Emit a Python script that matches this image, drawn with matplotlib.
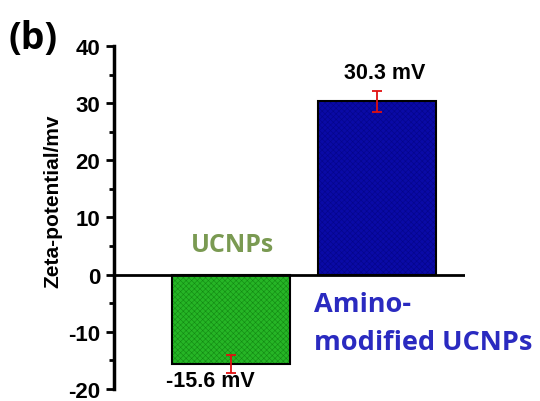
import matplotlib
matplotlib.use("Agg")
import matplotlib.pyplot as plt

samples = ["UCNPs", "Amino-modified UCNPs"]
zeta = [-15.6, 30.3]
zeta_err = [1.6, 1.9]
value_labels = ["-15.6 mV", "30.3 mV"]
yticks = [-20, -10, 0, 10, 20, 30, 40]

plt.rcParams["font.family"] = ["Liberation Sans", "DejaVu Sans"]
plt.rcParams["axes.unicode_minus"] = False

fig = plt.figure(figsize=(5.4, 4.02), dpi=100)
ax = fig.add_axes([0.211, 0.030, 0.65, 0.853])

pos = [1, 2]
fills = ["#26b526", "#0a0aa6"]
hatch_cols = ["#138a13", "#05058a"]
plt.rcParams["hatch.linewidth"] = 0.4
for p, v, fc, hc in zip(pos, zeta, fills, hatch_cols):
    ax.bar(p, v, width=0.81, color=fc, edgecolor=hc, hatch="xxxxxx", linewidth=0, zorder=2)
    ax.bar(p, v, width=0.81, fill=False, edgecolor="black", linewidth=1.5, zorder=3)

ax.errorbar(pos, zeta, yerr=zeta_err, fmt="none", ecolor="#e01010",
            elinewidth=1.3, capsize=3.5, capthick=1.3, zorder=4)

ax.axhline(0, color="black", linewidth=2, zorder=5)

ax.set_xlim(0.2, 2.6)
ax.set_ylim(-20, 40)
ax.set_yticks(yticks)
ax.set_yticks(range(-15, 40, 10), minor=True)
ax.set_xticks([])
for s in ["top", "right", "bottom"]:
    ax.spines[s].set_visible(False)
ax.spines["left"].set_linewidth(2.5)
ax.tick_params(axis="y", which="major", direction="out", length=6, width=2,
               labelsize=16, pad=4)
ax.tick_params(axis="y", which="minor", direction="out", length=3.5, width=2)
for lab in ax.get_yticklabels():
    lab.set_fontweight("bold")

fig.text(0.097, 0.50, "Zeta-potential/mv", rotation=90, ha="center", va="center",
         fontsize=15, fontweight="bold")
fig.text(0.016, 0.902, "(b)", fontsize=27, fontweight="bold", ha="left", va="center",
         family=["Open Sans", "DejaVu Sans"])

ax.text(pos[1] + 0.05, zeta[1] + 5.0, value_labels[1], ha="center", va="center",
        fontsize=15.5, fontweight="bold")
ax.text(pos[0] - 0.14, zeta[0] - 3.0, value_labels[0], ha="center", va="center",
        fontsize=15.5, fontweight="bold")

ax.text(pos[0] + 0.01, 5.2, "UCNPs", ha="center", va="center", fontsize=18,
        fontweight="bold", color="#7a9a52", family=["Open Sans", "DejaVu Sans"])
ax.text(1.57, -5.1, "Amino-", ha="left", va="center", fontsize=19.5,
        fontweight="bold", color="#2a2ac0", family=["Open Sans", "DejaVu Sans"])
ax.text(1.57, -11.7, "modified UCNPs", ha="left", va="center", fontsize=19.5,
        fontweight="bold", color="#2a2ac0", family=["Open Sans", "DejaVu Sans"])

fig.savefig("out.png", dpi=100)
